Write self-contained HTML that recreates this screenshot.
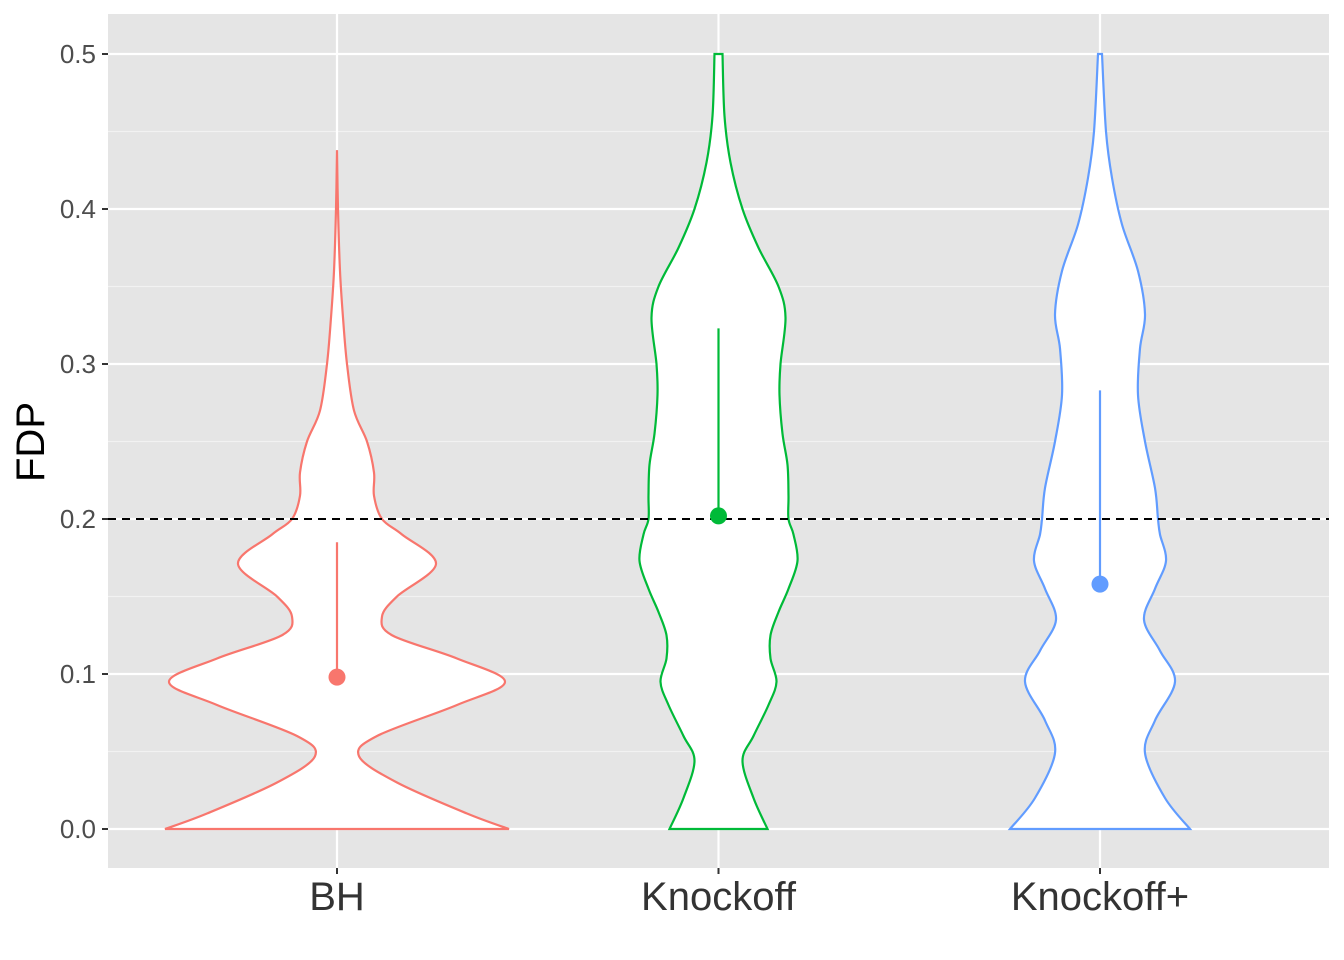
<!DOCTYPE html>
<html><head><meta charset="utf-8"><style>
body{margin:0;background:#fff}
svg{display:block;font-family:"Liberation Sans",Arial,sans-serif}
</style></head><body>
<svg id="c" width="1344" height="960"></svg>
<script>
const categories=["BH","Knockoff","Knockoff+"];
const colors=["#F8766D","#00BA38","#619CFF"];
const yTicks=[0,0.1,0.2,0.3,0.4,0.5];
const yTickLabels=["0.0","0.1","0.2","0.3","0.4","0.5"];
const bhY=[0,0.01,0.03,0.047,0.06,0.08,0.095,0.11,0.125,0.137,0.15,0.171,0.19,0.2,0.215,0.23,0.25,0.27,0.3,0.33,0.36,0.4,0.438];
const bhW=[172,130,60,22,40,120,168,120,55,45,60,99,65,45,37,37,30,17,10,6,3,1,0];
const koY=[0,0.02,0.044,0.06,0.08,0.095,0.11,0.125,0.14,0.155,0.173,0.19,0.2,0.215,0.235,0.255,0.28,0.3,0.33,0.35,0.375,0.4,0.43,0.46,0.5];
const koW=[49,35,24,35,50,58,52,52,60,70,79,75,70,70,69,64,61,62,67,60,40,24,12,6,4];
const kpY=[0,0.02,0.049,0.07,0.095,0.115,0.135,0.155,0.173,0.19,0.2,0.22,0.25,0.28,0.31,0.332,0.36,0.39,0.42,0.45,0.5];
const kpW=[90,65,45,55,75,60,44,55,66,60,58,55,45,38,40,45,38,22,12,6,2];
const medians=[0.098,0.202,0.158];
const uppers=[0.185,0.323,0.283];
const threshold=0.2;

const NS="http://www.w3.org/2000/svg";
const svg=document.getElementById("c");
const L=108,R=1329,T=14,B=868;
const y=v=>829-v*1550;
const x=i=>337+i*381.5;
function el(t,a,p){const e=document.createElementNS(NS,t);for(const k in a)e.setAttribute(k,a[k]);(p||svg).appendChild(e);return e;}
const bg=el("rect",{x:L,y:T,width:R-L,height:B-T,fill:"#E5E5E5"});


for(let i=0;i<yTicks.length-1;i++){const g=el("line",{x1:L,x2:R,y1:y(yTicks[i]+0.05),y2:y(yTicks[i]+0.05),stroke:"#F2F2F2","stroke-width":1.2});

}
yTicks.forEach((v,i)=>{const g=el("line",{x1:L,x2:R,y1:y(v),y2:y(v),stroke:"#fff","stroke-width":2.2});


const tk=el("line",{x1:L-6,x2:L,y1:y(v),y2:y(v),stroke:"#333","stroke-width":2});


const t=el("text",{x:L-12,y:y(v)+9,"text-anchor":"end","font-size":26,fill:"#4D4D4D"});t.textContent=yTickLabels[i];

});
categories.forEach((c,i)=>{const g=el("line",{x1:x(i),x2:x(i),y1:T,y2:B,stroke:"#fff","stroke-width":2.2});


const tk=el("line",{x1:x(i),x2:x(i),y1:B,y2:B+6,stroke:"#333","stroke-width":2});


const t=el("text",{x:x(i),y:910,"text-anchor":"middle","font-size":40,fill:"#333"});t.textContent=c;

});
const Ys=[bhY,koY,kpY],Ws=[bhW,koW,kpW];
function smooth(pts){let d="M"+pts[0][0]+","+pts[0][1];for(let i=0;i<pts.length-1;i++){const p0=pts[Math.max(0,i-1)],p1=pts[i],p2=pts[i+1],p3=pts[Math.min(pts.length-1,i+2)];
const c1=[p1[0]+(p2[0]-p0[0])/6,p1[1]+(p2[1]-p0[1])/6],c2=[p2[0]-(p3[0]-p1[0])/6,p2[1]-(p3[1]-p1[1])/6];d+=" C"+c1+" "+c2+" "+p2;}return d;}
categories.forEach((c,i)=>{const cx=x(i);const left=Ys[i].map((v,j)=>[cx-Ws[i][j],y(v)]);const right=Ys[i].map((v,j)=>[cx+Ws[i][j],y(v)]).reverse();
let d=smooth(left);d+=" L"+right[0]+" "+smooth(right).slice(1)+" Z";
const p=el("path",{d:d,fill:"#fff",stroke:colors[i],"stroke-width":2.2});

});
const dl=el("line",{x1:L,x2:R,y1:y(threshold),y2:y(threshold),stroke:"#000","stroke-width":2,"stroke-dasharray":"8,6"});


categories.forEach((c,i)=>{const s=el("line",{x1:x(i),x2:x(i),y1:y(medians[i]),y2:y(uppers[i]),stroke:colors[i],"stroke-width":2.2});


const m=el("circle",{cx:x(i),cy:y(medians[i]),r:8.5,fill:colors[i]});

});
const yl=el("text",{x:0,y:0,transform:"translate(44,442) rotate(-90)","text-anchor":"middle","font-size":40,fill:"#000"});yl.textContent="FDP";


</script>
</body></html>
